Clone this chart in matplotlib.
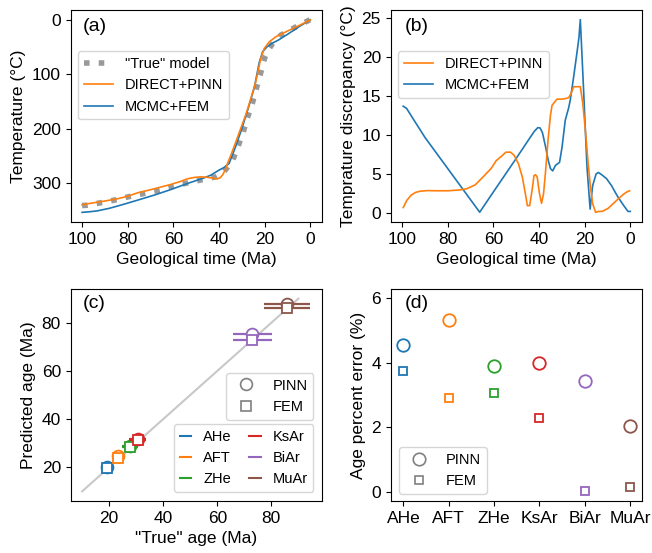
import matplotlib
matplotlib.use("Agg")
import matplotlib.pyplot as plt
from matplotlib.lines import Line2D

plt.rcParams['font.family'] = ['Liberation Sans', 'DejaVu Sans']
plt.rcParams['font.size'] = 12.5
plt.rcParams['legend.fontsize'] = 10.5

# ---------------- data ----------------
# (a) temperature histories
t_true = [100, 97.8, 91.2, 84.6, 78.1, 71.5, 64.9, 58.3, 51.7, 45.1, 41.5, 38.5, 36.5,
          34.1, 31.6, 29.4, 27.4, 25.3, 23.5, 21.7, 19.9, 18.0, 16.5, 12.9, 10.0, 4.8, 0]
T_true = [341, 340.4, 335.4, 330, 323.3, 317.8, 311.6, 303.7, 297.6, 291.4, 288.5, 282, 272,
          259, 232, 206, 178, 152, 124, 97, 69, 53, 43.7, 28.4, 22, 9.8, 0]

t_pinn = [100, 95, 90.5, 85, 80, 75.8, 70, 65, 61.2, 57, 53.9, 50.5, 48, 45.5, 43.6, 41.8,
          40.7, 39.5, 38.5, 37.3, 36.3, 34.8, 32.6, 30, 28.3, 26, 23.9, 21.7, 20.2, 18.0,
          15.1, 10.7, 5, 0]
T_pinn = [339.5, 336, 333, 329, 324, 317.8, 312, 306.5, 302.4, 297, 292, 289.2, 288.4, 289,
          290.2, 291.5, 292, 290, 285.3, 276, 264, 248.6, 224, 194, 175, 144, 114, 71, 53,
          40.7, 31.5, 22.4, 11, 0.5]

t_fem = [100, 97, 93.4, 88, 83.2, 76, 68.5, 61, 53.9, 47, 43.6, 40, 37.8, 35.6, 33, 30,
         27, 24.5, 22.4, 20.9, 19, 17, 14, 10, 5, 0]
T_fem = [353.5, 352.5, 350.8, 346, 340.4, 331.5, 322, 311.5, 300.6, 291, 285.3, 276,
         271.2, 264, 236, 200, 160, 124, 79, 59, 50, 44, 37.5, 27, 13, 0.3]

# (b) temperature discrepancy
t_dp = [99.5, 98, 96, 94, 92, 89, 85, 80, 75, 71.8, 68, 64.6, 61, 58.8, 56, 54.5, 52.5,
        50.9, 49, 47.3, 46, 45.1, 44.1, 43, 42.2, 41.5, 40.8, 39.8, 38.9, 38, 37.1, 36,
        35, 34.3, 33, 32.1, 30, 28, 27, 26, 24.8, 23, 21.9, 20.8, 19.8, 18.5, 17.6, 16.5,
        15.2, 14, 12.3, 11, 9.7, 7.5, 5.3, 3, 1.5, 0.3]
d_pinn = [0.7, 1.6, 2.3, 2.65, 2.8, 2.87, 2.85, 2.85, 2.95, 3.1, 3.6, 4.6, 5.7, 6.7, 7.4,
          7.8, 7.8, 7.4, 6.3, 4.6, 2.5, 0.94, 0.94, 3.0, 4.8, 4.9, 4.6, 2.5, 1.24, 2.5,
          5.45, 9.5, 12.5, 13.8, 14.3, 14.6, 14.6, 14.7, 14.8, 15.3, 16.2, 16.2, 16.2, 14,
          11.0, 6.5, 3.7, 1.2, 0.08, 0.2, 0.2, 0.4, 0.6, 1.2, 1.8, 2.4, 2.7, 2.85]

t_df = [99.5, 98, 95, 90, 80, 70, 66, 60, 50, 45, 42, 40.5, 39.5, 38.5, 37.1, 36, 35,
        34, 32.8, 31, 29.9, 28.5, 27, 26.3, 24.8, 23.4, 22.5, 21.9, 20.5, 19, 17.6, 16.5,
        15, 14, 12.5, 10.4, 8.2, 6.5, 5.3, 3, 1, 0]
d_fem = [13.7, 13.4, 12.0, 9.7, 5.7, 1.7, 0.1, 2.7, 7.0, 9.2, 10.5, 10.95, 10.9, 10.3,
         8.45, 6.8, 5.7, 5.4, 6.1, 6.5, 8.45, 11.9, 13.5, 14.5, 17.5, 20.5, 22.5, 24.8,
         16, 6, 0.5, 3.5, 5.0, 5.2, 4.9, 4.4, 3.5, 2.6, 2.0, 1.0, 0.2, 0.2]

# (c) / (d) thermochronometers
systems = ['AHe', 'AFT', 'ZHe', 'KsAr', 'BiAr', 'MuAr']
sys_colors = ['#1f77b4', '#ff7f0e', '#2ca02c', '#d62728', '#9467bd', '#8c564b']
true_age = [19.2, 23.3, 27.7, 30.5, 73.0, 85.8]
pinn_age = [20.1, 24.5, 28.8, 31.7, 75.5, 87.6]
fem_age = [19.9, 24.0, 28.6, 31.2, 73.0, 86.0]
age_err = [1.9, 2.3, 2.8, 3.05, 7.3, 8.6]
diag = [10, 90]

pinn_pct = [4.56, 5.33, 3.91, 4.0, 3.45, 2.05]
fem_pct = [3.73, 2.90, 3.07, 2.28, 0.02, 0.16]

time_ticks = [100, 80, 60, 40, 20, 0]
age_ticks = [20, 40, 60, 80]

C_PINN = '#ff7f0e'
C_FEM = '#1f77b4'

# ---------------- figure ----------------
fig = plt.figure(figsize=(6.52, 5.53), dpi=100)
W, H = 652, 553


def add_ax(left, top, right, bottom):
    return fig.add_axes([left / W, 1 - bottom / H, (right - left) / W, (bottom - top) / H])


ax_a = add_ax(70.7, 10, 321.7, 222)
ax_b = add_ax(390.7, 10, 641.7, 222)
ax_c = add_ax(70.7, 289, 321.7, 501)
ax_d = add_ax(390.7, 289, 641.7, 501)

# (a)
h_true, = ax_a.plot(t_true, T_true, ls=':', lw=4, color='#999999', label='"True" model', zorder=2)
h_fem, = ax_a.plot(t_fem, T_fem, color=C_FEM, lw=1.2, label='MCMC+FEM', zorder=3)
h_pinn, = ax_a.plot(t_pinn, T_pinn, color=C_PINN, lw=1.2, label='DIRECT+PINN', zorder=4)
ax_a.set_xticks(time_ticks)
ax_a.set_xlim(105, -5)
ax_a.invert_yaxis()
ax_a.set_xlabel('Geological time (Ma)')
ax_a.set_ylabel('Temperature (°C)')
ax_a.legend(handles=[h_true, h_pinn, h_fem], loc='upper left', bbox_to_anchor=(0, 0.84))
ax_a.text(0.048, 0.922, '(a)', transform=ax_a.transAxes, fontsize=14, va='center')

# (b)
hf, = ax_b.plot(t_df, d_fem, color=C_FEM, lw=1.2, label='MCMC+FEM', zorder=3)
hp, = ax_b.plot(t_dp, d_pinn, color=C_PINN, lw=1.2, label='DIRECT+PINN', zorder=4)
ax_b.legend(handles=[hp, hf], loc='upper left', bbox_to_anchor=(0, 0.84))
ax_b.set_xticks(time_ticks)
ax_b.set_xlim(105, -5)
ax_b.set_xlabel('Geological time (Ma)')
ax_b.set_ylabel('Temprature discrepancy (°C)')
ax_b.text(0.057, 0.922, '(b)', transform=ax_b.transAxes, fontsize=14, va='center')

# (c)
ax_c.plot(diag, diag, color='#c8c8c8', lw=1.5, zorder=1)
for i in range(len(systems)):
    c = sys_colors[i]
    ax_c.errorbar(true_age[i], pinn_age[i], xerr=age_err[i], fmt='o', color=c, mfc='white',
                  mec=c, ms=8.5, mew=1.3, elinewidth=1.6, capsize=0, zorder=3)
    ax_c.errorbar(true_age[i], fem_age[i], xerr=age_err[i], fmt='s', color=c, mfc='white',
                  mec=c, ms=6.5, mew=1.3, elinewidth=1.6, capsize=0, zorder=4)
ax_c.set_xticks(age_ticks)
ax_c.set_yticks(age_ticks)
ax_c.set_xlabel('"True" age (Ma)')
ax_c.set_ylabel('Predicted age (Ma)')
ax_c.text(0.048, 0.93, '(c)', transform=ax_c.transAxes, fontsize=14, va='center')

mk_handles = [Line2D([], [], marker='o', ls='none', mfc='none', mec='gray', ms=8.5, mew=1.2),
              Line2D([], [], marker='s', ls='none', mfc='none', mec='gray', ms=6.5, mew=1.2)]
leg1 = ax_c.legend(mk_handles, ['PINN', 'FEM'], loc='upper right',
                   bbox_to_anchor=(0.967, 0.605), borderaxespad=0)
ax_c.add_artist(leg1)
col_handles = [Line2D([], [], color=c, lw=1.5) for c in sys_colors]
ax_c.legend(col_handles, systems, ncol=2, loc='lower right', bbox_to_anchor=(0.967, 0.041),
            borderaxespad=0, handlelength=0.8, handletextpad=0.8, columnspacing=1.2)

# (d)
xpos = list(range(len(systems)))
for i in range(len(systems)):
    c = sys_colors[i]
    ax_d.plot(xpos[i], pinn_pct[i], 'o', mfc='none', mec=c, ms=9, mew=1.3)
    ax_d.plot(xpos[i], fem_pct[i], 's', mfc='none', mec=c, ms=6, mew=1.3)
ax_d.set_xticks(xpos)
ax_d.set_xticklabels(systems)
ax_d.set_xlim(-0.28, 5.26)
ax_d.set_ylim(-0.29, 6.29)
ax_d.set_yticks([0, 2, 4, 6])
ax_d.set_ylabel('Age percent error (%)')
ax_d.text(0.057, 0.93, '(d)', transform=ax_d.transAxes, fontsize=14, va='center')
mk_handles_d = [Line2D([], [], marker='o', ls='none', mfc='none', mec='gray', ms=9, mew=1.2),
                Line2D([], [], marker='s', ls='none', mfc='none', mec='gray', ms=6, mew=1.2)]
ax_d.legend(mk_handles_d, ['PINN', 'FEM'], loc='lower left', bbox_to_anchor=(0.033, 0.033),
            borderaxespad=0)

fig.savefig('out.png', dpi=100)
